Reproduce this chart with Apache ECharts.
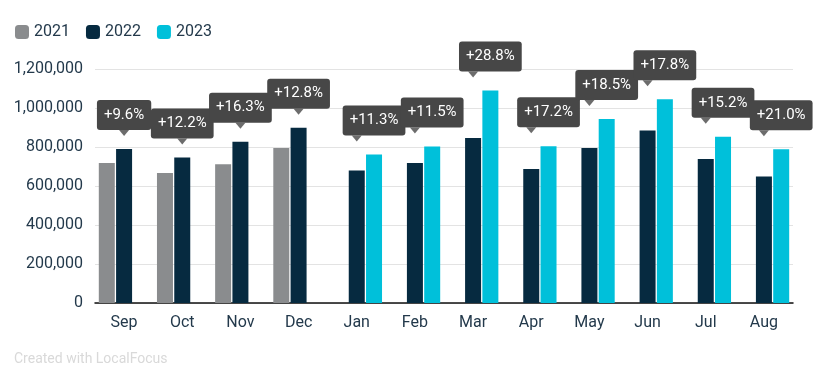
<!DOCTYPE html>
<html><head><meta charset="utf-8">
<script src="https://cdn.jsdelivr.net/npm/echarts@6/dist/echarts.min.js"></script>
<style>html,body{margin:0;padding:0;background:#fff}#c{width:827px;height:381px}</style>
</head><body><div id="c"></div>
<script>
var categories = ['Sep','Oct','Nov','Dec','Jan','Feb','Mar','Apr','May','Jun','Jul','Aug'];
var v2021 = [718000, 667000, 711000, 795000, null, null, null, null, null, null, null, null];
var v2022 = [790000, 746000, 827000, 899000, 680000, 718000, 846000, 687000, 795000, 885000, 738000, 649000];
var v2023 = [null, null, null, null, 762000, 802000, 1090000, 804000, 943000, 1045000, 852000, 788000];
var changeLabels = ['+9.6%','+12.2%','+16.3%','+12.8%','+11.3%','+11.5%','+28.8%','+17.2%','+18.5%','+17.8%','+15.2%','+21.0%'];
var yTicks = [0, 200000, 400000, 600000, 800000, 1000000, 1200000];

var FONT = 'Roboto, sans-serif';
var C21 = '#8a8c8e', C22 = '#062a40', C23 = '#00c0da', BOX = '#474747';

function labelOf(i){ return {show:true, position:'top', distance:19, formatter: changeLabels[i],
  backgroundColor: BOX, color:'#fff', borderRadius:3, padding:[0,7,0,7], fontSize:15, fontFamily:'Roboto', lineHeight:30}; }

var d22 = v2022.map(function(v,i){ var o={value:v}; if (i<4) o.label=labelOf(i); return o; });
var d23 = v2023.map(function(v,i){ var o={value:v}; if (i>=4) o.label=labelOf(i); return o; });
var arrowData = categories.map(function(c,i){ return i<4 ? v2022[i] : v2023[i]; });

var chart = echarts.init(document.getElementById('c'));
chart.setOption({
  animation:false,
  legend:{left:10, top:19, itemWidth:14, itemHeight:14, itemGap:16, icon:'roundRect',
    textStyle:{fontFamily:FONT, fontSize:16, color:'#23394b'}, data:['2021','2022','2023']},
  grid:{left:95, right:34, top:69, bottom:78},
  xAxis:{type:'category', data:categories,
    axisLine:{lineStyle:{color:'#111', width:1.5}}, axisTick:{show:false},
    axisLabel:{fontFamily:FONT, fontSize:16, color:'#23394b', margin:12}},
  yAxis:{type:'value', min:0, max:1200000, interval:200000,
    axisLine:{show:false}, axisTick:{show:false},
    splitLine:{lineStyle:{color:'#e3e3e3', width:1}},
    axisLabel:{fontFamily:FONT, fontSize:16, color:'#23394b', margin:12,
      formatter:function(v){ return v.toLocaleString('en-US'); }}},
  graphic:[{type:'text', left:14, top:352, style:{text:'Created with LocalFocus', fill:'#d9d9d9', font:'14px Roboto'}}],
  series:[
    {name:'2021', type:'bar', data:v2021, barWidth:16, barGap:'8%', itemStyle:{color:C21}},
    {name:'2022', type:'bar', data:d22, barWidth:16, barGap:'8%', itemStyle:{color:C22}, z:3},
    {name:'2023', type:'bar', data:d23, barWidth:16, barGap:'8%', itemStyle:{color:C23}, z:4},
    {name:'arrows', type:'scatter', data:arrowData, symbol:'triangle', symbolSize:[10,6], symbolRotate:180,
      symbolOffset:[0,-16], itemStyle:{color:BOX}, silent:true, z:5}
  ]
});
</script></body></html>
